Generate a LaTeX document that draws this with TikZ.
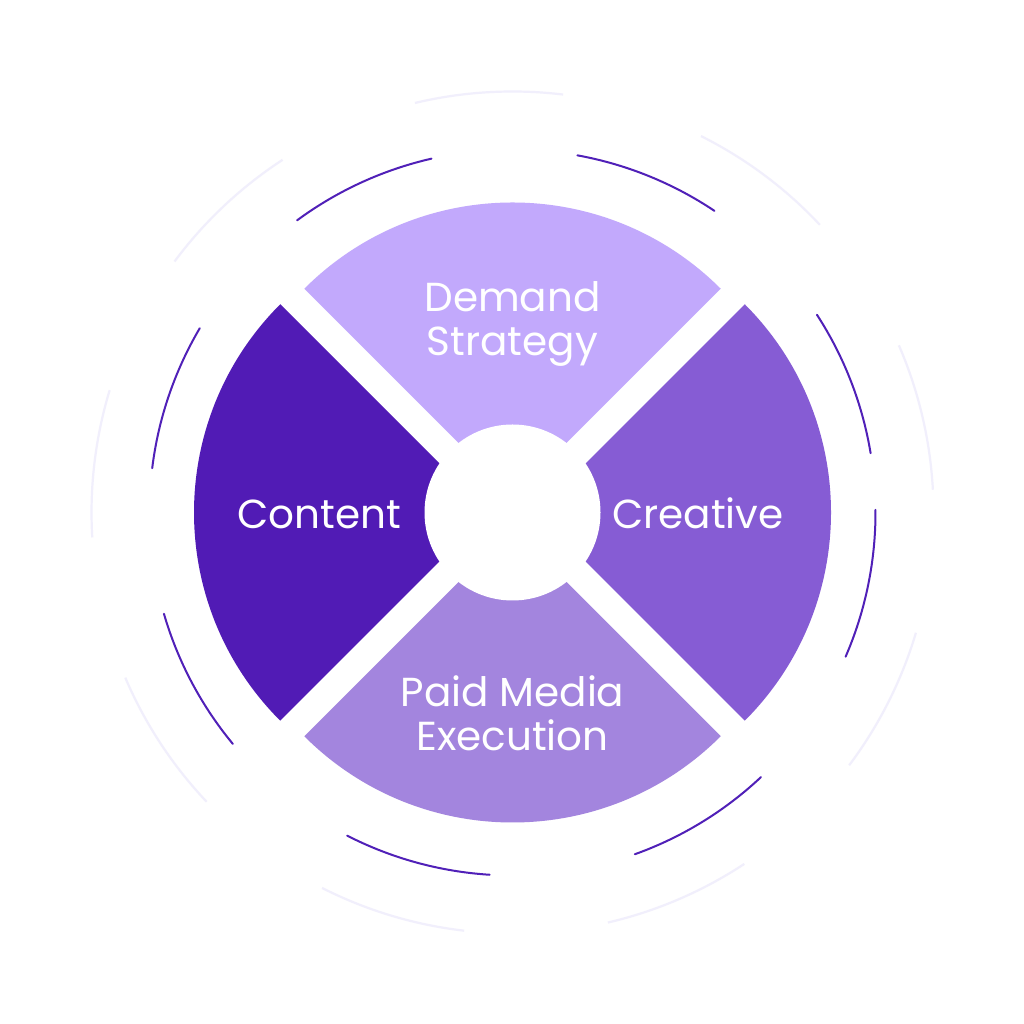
\documentclass[tikz,border=0pt]{standalone}
\usepackage{fontspec}
\setmainfont{Poppins}
\usetikzlibrary{calc}
\definecolor{ccontent}{HTML}{511BB5}
\definecolor{cdemand}{HTML}{C2A9FC}
\definecolor{ccreative}{HTML}{865CD4}
\definecolor{cpaid}{HTML}{A385DE}
\definecolor{carc}{HTML}{5020B8}
\definecolor{cfaint}{HTML}{F1EFFC}
\tikzset{
  arcline/.style={draw=carc, line width=2pt, line cap=round},
  faintline/.style={draw=cfaint, line width=2.2pt},
  label/.style={text=white, font=\fontsize{40.5}{44.5}\selectfont, align=center, anchor=base, inner sep=0pt},
}
\begin{document}
\begin{tikzpicture}[x=1pt,y=1pt]
\useasboundingbox (0,0) rectangle (1024,1024);
\fill[white] (0,0) rectangle (1024,1024);
\coordinate (c) at (512.5,511.5);
\def\R{294.5}
% faint outer dashed ring
\foreach \a in {0,...,8}{
  \pgfmathsetmacro{\s}{3.1+40*\a}
  \pgfmathsetmacro{\e}{\s+20.3}
  \draw[faintline] ([shift={(\s:421)}]c) arc[start angle=\s, end angle=\e, radius=421];
}
% purple arcs
\foreach \s/\e in {102.9/126.4, 56.2/79.7, 9.4/33.0, -23.4/0.4, -70.3/-46.8, -117.1/-93.6, -163.8/-140.4, 149.5/173.0}{
  \draw[arcline] ([shift={(\s:363)}]c) arc[start angle=\s, end angle=\e, radius=363];
}
% wedges
\fill[cdemand] ([shift={(0,15.5)}]c) -- ++(45:\R) arc[start angle=45, end angle=135, radius=\R] -- cycle;
\fill[ccontent] ([shift={(-24,0)}]c) -- ++(135:\R) arc[start angle=135, end angle=225, radius=\R] -- cycle;
\fill[cpaid] ([shift={(0,-15.5)}]c) -- ++(225:\R) arc[start angle=225, end angle=315, radius=\R] -- cycle;
\fill[ccreative] ([shift={(24,0)}]c) -- ++(-45:\R) arc[start angle=-45, end angle=45, radius=\R] -- cycle;
% hub
\node[circle, fill=white, minimum size=176pt, inner sep=0pt] (hub) at (c) {};
% labels
\node[label] (demand) at (512.5,668) {Demand\\Strategy};
\node[label] (paid) at (512.5,273) {Paid Media\\Execution};
\node[label] (content) at (319,495) {Content};
\node[label] (creative) at (698,495) {Creative};
\end{tikzpicture}
\end{document}
